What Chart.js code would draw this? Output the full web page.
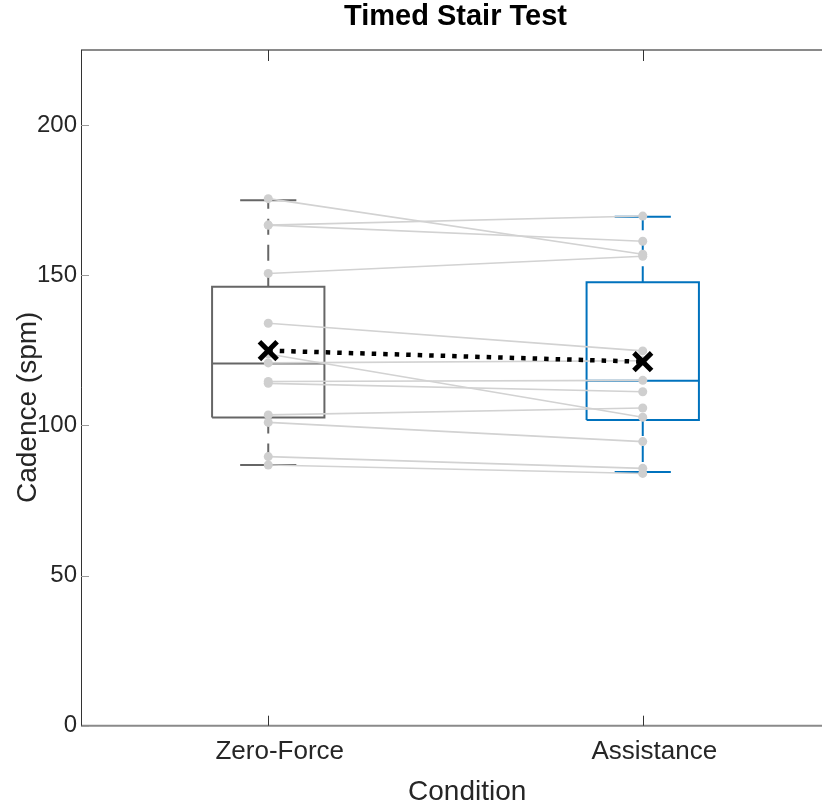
<!DOCTYPE html>
<html>
<head>
<meta charset="utf-8">
<script src="https://cdn.jsdelivr.net/npm/chart.js@4.4.1/dist/chart.umd.min.js"></script>
<style>
  html, body { margin: 0; padding: 0; background: #ffffff; overflow: hidden; }
  #wrap { position: absolute; left: 0; top: 0; width: 860px; height: 809px; }
</style>
</head>
<body>
<div id="wrap"><canvas id="c" width="860" height="809"></canvas></div>
<script>
// ---------- data ----------
const categories = ['Zero-Force', 'Assistance'];
const categoryX = [1, 2];
const zeroForce  = [175.5, 166.7, 166.7, 150.6, 134.0, 123.8, 120.8, 114.6, 114.0, 103.5, 101.0, 89.6, 86.8];
const assistance = [157.0, 169.7, 161.3, 156.3, 124.8, 102.7, 121.5, 115.0, 111.2, 105.8, 94.6, 85.7, 84.0];
const boxMin    = [86.8, 84.5];
const boxQ1     = [102.6, 101.8];
const boxMedian = [120.6, 114.9];
const boxQ3     = [146.2, 147.7];
const boxMax    = [175.0, 169.5];
const means     = [124.9, 121.2];
const yTicks    = [0, 50, 100, 150, 200];
const chartTitle = 'Timed Stair Test';

// ---------- styles ----------
const BOX_HALF = 0.15, CAP_HALF = 0.075;
const boxColors = ['#666666', '#0072BD'];
const FONT = "'Liberation Sans', Arial, Helvetica, sans-serif";
const TEXT = '#262626';

const datasets = [];

// mean markers + dotted connector (on top)
datasets.push({
  data: categoryX.map((x, i) => ({ x, y: means[i] })),
  showLine: true, borderColor: '#000', borderWidth: 4.5, borderDash: [4.5, 7],
  pointStyle: 'crossRot', pointRadius: 12.5, pointBorderWidth: 5,
  pointBorderColor: '#000', pointBackgroundColor: '#000', order: 0
});

// paired subject lines with points
zeroForce.forEach((v, i) => {
  datasets.push({
    data: [{ x: categoryX[0], y: v }, { x: categoryX[1], y: assistance[i] }],
    showLine: true, borderColor: '#d2d2d2', borderWidth: 1.6,
    pointRadius: 4.5, pointBorderWidth: 0, pointBackgroundColor: '#cfcfcf', order: 1
  });
});

// box plots
categoryX.forEach((x, i) => {
  const col = boxColors[i];
  const solid = { showLine: true, borderColor: col, borderWidth: 2, pointRadius: 0, order: 2, borderJoinStyle: 'miter' };
  datasets.push(Object.assign({}, solid, { data: [
    { x: x - BOX_HALF, y: boxQ1[i] }, { x: x + BOX_HALF, y: boxQ1[i] },
    { x: x + BOX_HALF, y: boxQ3[i] }, { x: x - BOX_HALF, y: boxQ3[i] },
    { x: x - BOX_HALF, y: boxQ1[i] } ] }));
  datasets.push(Object.assign({}, solid, { data: [
    { x: x - BOX_HALF, y: boxMedian[i] }, { x: x + BOX_HALF, y: boxMedian[i] } ] }));
  datasets.push(Object.assign({}, solid, { data: [
    { x: x - CAP_HALF, y: boxMax[i] }, { x: x + CAP_HALF, y: boxMax[i] } ] }));
  datasets.push(Object.assign({}, solid, { data: [
    { x: x - CAP_HALF, y: boxMin[i] }, { x: x + CAP_HALF, y: boxMin[i] } ] }));
  datasets.push(Object.assign({}, solid, { borderDash: [16, 10], data: [
    { x, y: boxQ3[i] }, { x, y: boxMax[i] } ] }));
  datasets.push(Object.assign({}, solid, { borderDash: [16, 10], data: [
    { x, y: boxQ1[i] }, { x, y: boxMin[i] } ] }));
});

// axes frame, inward ticks and title centred over the plot area
const framePlugin = {
  id: 'frame',
  afterDatasetsDraw(chart) {
    const { ctx, chartArea: a, scales } = chart;
    ctx.save();
    ctx.strokeStyle = '#8a8a8a'; ctx.lineWidth = 2;
    ctx.beginPath();
    ctx.moveTo(a.left, a.top); ctx.lineTo(a.right, a.top);
    ctx.moveTo(a.left, a.bottom); ctx.lineTo(a.right, a.bottom);
    ctx.stroke();
    ctx.strokeStyle = '#333333'; ctx.lineWidth = 1;
    ctx.beginPath(); ctx.moveTo(a.left + 0.5, a.top); ctx.lineTo(a.left + 0.5, a.bottom); ctx.stroke();
    ctx.strokeStyle = '#9a9a9a'; ctx.lineWidth = 1;
    yTicks.forEach(v => {
      const y = Math.round(scales.y.getPixelForValue(v)) + 0.5;
      ctx.beginPath(); ctx.moveTo(a.left, y); ctx.lineTo(a.left + 8, y); ctx.stroke();
    });
    ctx.strokeStyle = '#333333';
    categoryX.forEach(v => {
      const x = Math.round(scales.x.getPixelForValue(v)) + 0.5;
      ctx.beginPath();
      ctx.moveTo(x, a.bottom); ctx.lineTo(x, a.bottom - 10);
      ctx.moveTo(x, a.top); ctx.lineTo(x, a.top + 11);
      ctx.stroke();
    });
    // title
    ctx.fillStyle = '#000';
    ctx.font = 'bold 29px ' + FONT;
    ctx.textAlign = 'center';
    ctx.textBaseline = 'middle';
    ctx.fillText(chartTitle, (a.left + a.right) / 2, 17);
    ctx.restore();
  }
};

new Chart(document.getElementById('c'), {
  type: 'scatter',
  data: { datasets },
  options: {
    responsive: false,
    animation: false,
    devicePixelRatio: 1,
    layout: { padding: { left: 0, right: 30, top: 50, bottom: 0 } },
    plugins: {
      legend: { display: false },
      tooltip: { enabled: false },
      title: { display: false }
    },
    scales: {
      x: {
        type: 'linear', min: 0.5, max: 2.5,
        afterBuildTicks: s => { s.ticks = categoryX.map(v => ({ value: v })); },
        afterFit: s => { s.height = 83.3; },
        grid: { display: false, drawTicks: false },
        border: { display: false },
        ticks: {
          autoSkip: false, maxRotation: 0, padding: 11, labelOffset: 11.5, color: TEXT,
          font: { family: FONT, size: 26 },
          callback: (v, i) => categories[i]
        },
        title: {
          display: true, text: '   Condition', color: TEXT,
          font: { family: FONT, size: 28, lineHeight: 1.2 },
          padding: { top: 0, bottom: 0 }
        }
      },
      y: {
        type: 'linear', min: 0, max: 225,
        afterBuildTicks: s => { s.ticks = yTicks.map(v => ({ value: v })); },
        afterFit: s => { s.width = 81; },
        grid: { display: false, drawTicks: false },
        border: { display: false },
        ticks: { padding: 4, color: TEXT, font: { family: FONT, size: 24 } },
        title: {
          display: true, text: 'Cadence (spm)     ', color: TEXT,
          font: { family: FONT, size: 28, lineHeight: 1.2 },
          padding: { top: 11, bottom: 0 }
        }
      }
    }
  },
  plugins: [framePlugin]
});
</script>
</body>
</html>
